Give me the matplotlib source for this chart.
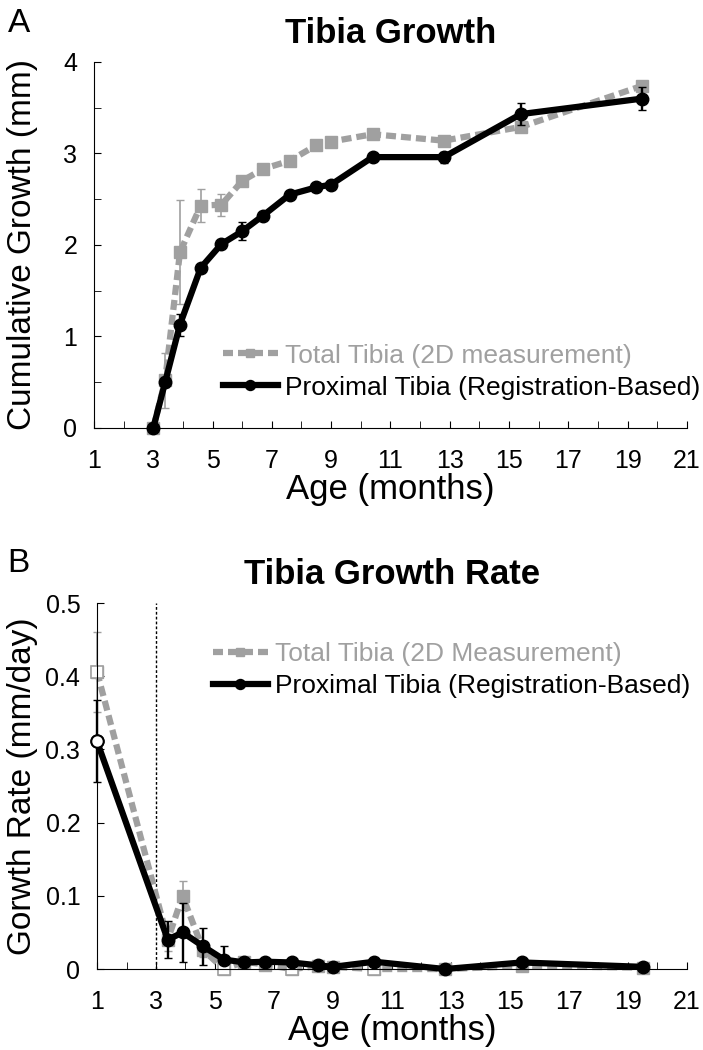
import matplotlib
matplotlib.use("Agg")
import matplotlib.pyplot as plt

plt.rcParams['font.family'] = ['Liberation Sans', 'DejaVu Sans']

# panel A: cumulative growth (mm)
ages_A = [3.0, 3.4, 3.9, 4.6, 5.3, 6.0, 6.7, 7.6, 8.5, 9.0, 10.4, 12.8, 15.4, 19.5]
total_A = [0.0, 0.52, 1.92, 2.43, 2.44, 2.70, 2.83, 2.92, 3.09, 3.13, 3.21, 3.14, 3.29, 3.74]
total_A_err = [0.0, 0.30, 0.57, 0.18, 0.12, 0.05, 0.04, 0.04, 0.04, 0.04, 0.04, 0.05, 0.04, 0.04]
prox_A = [0.0, 0.50, 1.13, 1.75, 2.01, 2.15, 2.32, 2.55, 2.63, 2.66, 2.96, 2.96, 3.43, 3.60]
prox_A_err = [0.0, 0.05, 0.12, 0.04, 0.04, 0.10, 0.04, 0.04, 0.04, 0.04, 0.03, 0.06, 0.12, 0.13]

# panel B: growth rate (mm/day)
ages_B = [1.0, 3.4, 3.9, 4.6, 5.3, 6.0, 6.7, 7.6, 8.5, 9.0, 10.4, 12.8, 15.4, 19.5]
total_B = [0.406, 0.040, 0.100, 0.026, 0.0, 0.010, 0.006, 0.0, 0.004, 0.003, 0.0, 0.0, 0.004, 0.002]
total_B_err = [0.055, 0.015, 0.020, 0.010, 0.004, 0.003, 0.003, 0.003, 0.003, 0.003, 0.003, 0.003, 0.003, 0.003]
prox_B = [0.311, 0.040, 0.050, 0.031, 0.013, 0.009, 0.010, 0.009, 0.005, 0.003, 0.010, 0.0, 0.009, 0.003]
prox_B_err = [0.056, 0.025, 0.040, 0.025, 0.018, 0.004, 0.003, 0.003, 0.003, 0.003, 0.003, 0.003, 0.003, 0.003]
open_total_B = [0, 4, 7, 10]
open_prox_B = [0]

gray = '#a0a0a0'
fig = plt.figure(figsize=(7.03, 10.5), dpi=100)
axA = fig.add_axes([0.1337, 0.5924, 0.8433, 0.3486])
axB = fig.add_axes([0.138, 0.0771, 0.839, 0.3486])


def style(ax, ymax, ylabel, title, ylab_x):
    ax.set_xlim(1, 21)
    ax.set_ylim(0, ymax)
    for s in ['top', 'right']:
        ax.spines[s].set_visible(False)
    ax.set_xticks(range(1, 22, 2))
    ax.set_xticks(range(1, 22), minor=True)
    ax.tick_params(axis='x', which='both', direction='in', length=5, labelsize=18, pad=15)
    ax.tick_params(axis='y', which='both', direction='in', length=5, labelsize=18, pad=12)
    ax.set_xlabel('Age (months)', fontsize=25)
    ax.xaxis.set_label_coords(0.5, -0.124)
    ax.set_ylabel(ylabel, fontsize=24)
    ax.yaxis.set_label_coords(ylab_x, 0.5)
    ax.set_title(title, fontsize=25, fontweight='bold', pad=14)


def series(ax, x, y, err, color, kind, label):
    ax.errorbar(x, y, yerr=err, fmt='none', ecolor=color,
                elinewidth=1.2 if kind == 's' else 1.7, capsize=3, zorder=2, clip_on=False)
    if kind == 's':
        ax.plot(x, y, color=color, lw=4.5, dashes=(1.6, 0.8), marker='s', ms=8,
                label=label, zorder=2, clip_on=False)
    else:
        ax.plot(x, y, color=color, lw=4.5, marker='o', ms=9,
                label=label, zorder=3, clip_on=False)


def legend(ax, anchor):
    ax.legend(loc='center left', bbox_to_anchor=anchor, frameon=False, fontsize=19,
              handlelength=2.1, handletextpad=0.25, labelspacing=0.3,
              labelcolor='linecolor', markerscale=0.8)


series(axA, ages_A, total_A, total_A_err, gray, 's', 'Total Tibia (2D measurement)')
series(axA, ages_A, prox_A, prox_A_err, 'black', 'o', 'Proximal Tibia (Registration-Based)')
style(axA, 4, 'Cumulative Growth (mm)', 'Tibia Growth', -0.094)
axA.set_yticks([0, 1, 2, 3, 4])
axA.set_yticks([0.5, 1.5, 2.5, 3.5], minor=True)
legend(axA, (0.177, 0.154))

axB.axvline(3, color='black', lw=1, ls=(0, (2, 1.5)), zorder=1)
series(axB, ages_B, total_B, total_B_err, gray, 's', 'Total Tibia (2D Measurement)')
axB.plot([ages_B[i] for i in open_total_B], [total_B[i] for i in open_total_B], 's',
         ms=8, mfc='white', mec=gray, mew=1.2, zorder=2.5, clip_on=False)
series(axB, ages_B, prox_B, prox_B_err, 'black', 'o', 'Proximal Tibia (Registration-Based)')
axB.plot([ages_B[i] for i in open_prox_B], [prox_B[i] for i in open_prox_B], 'o',
         ms=9, mfc='white', mec='black', mew=1.5, zorder=3.5, clip_on=False)
style(axB, 0.5, 'Gorwth Rate (mm/day)', 'Tibia Growth Rate', -0.1)
axB.set_yticks([0, 0.1, 0.2, 0.3, 0.4, 0.5])
axB.set_yticklabels(['0', '0.1', '0.2', '0.3', '0.4', '0.5'])
legend(axB, (0.156, 0.817))

fig.text(0.011, 0.9695, 'A', fontsize=24, va='baseline', ha='left')
fig.text(0.011, 0.4552, 'B', fontsize=24, va='baseline', ha='left')

fig.savefig('out.png', dpi=100)
